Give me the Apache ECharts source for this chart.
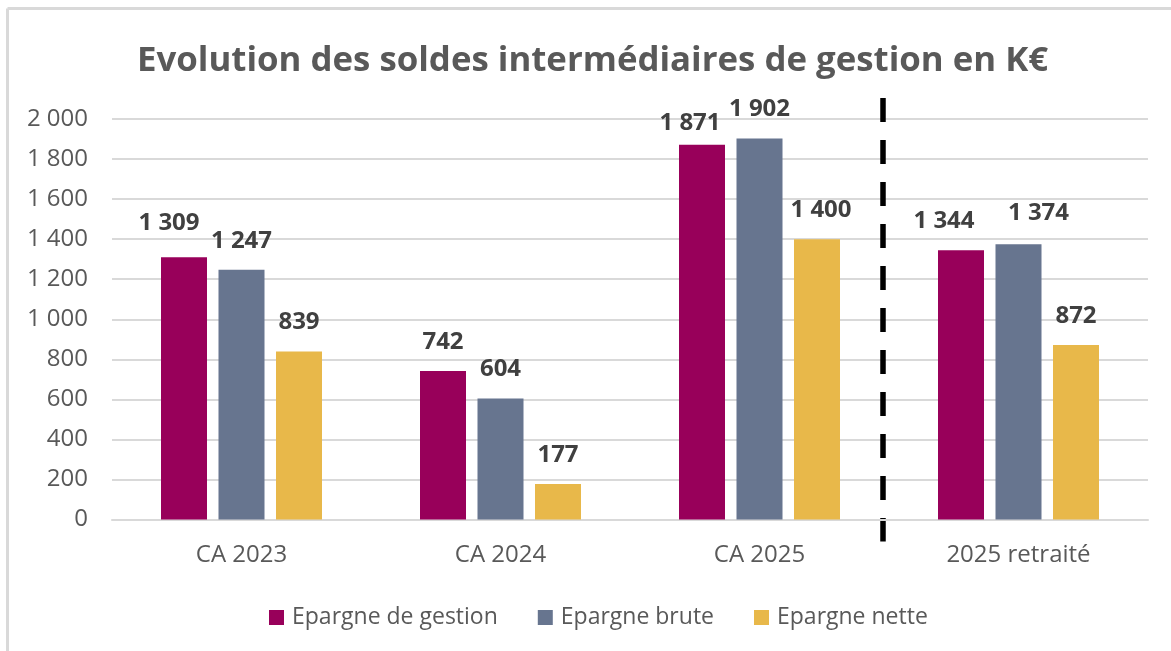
<!DOCTYPE html>
<html><head><meta charset="utf-8">
<script src="https://cdn.jsdelivr.net/npm/echarts@6/dist/echarts.min.js"></script>
<style>html,body{margin:0;padding:0;background:#fff}#c{width:1171px;height:651px}</style>
</head><body><div id="c"></div>
<script>
const categories = ['CA 2023', 'CA 2024', 'CA 2025', '2025 retraité'];
const seriesNames = ['Epargne de gestion', 'Epargne brute', 'Epargne nette'];
const epargneGestion = [1309, 742, 1871, 1344];
const epargneBrute = [1247, 604, 1902, 1374];
const epargneNette = [839, 177, 1400, 872];
const yTicks = { min: 0, max: 2000, interval: 200 };

const colors = ['#98005A', '#67758F', '#E8B84A'];
const fontFam = '"Open Sans", "Liberation Sans", sans-serif';
const fmt = v => String(v).replace(/\B(?=(\d{3})+(?!\d))/g, ' ');
// label nudges (style only, as placed in the original)
const labelDx = [[-15, 0, -12, -17], [0, 0, 0, 20], [0, 0, 4, 0]];
const labelDy = [[-5, 0, 7, 0], [0, 0, 0, -2], [0, 0, 0, 0]];

const chart = echarts.init(document.getElementById('c'), null, { renderer: 'canvas' });
const dataSets = [epargneGestion, epargneBrute, epargneNette];
const series = dataSets.map((d, si) => ({
  name: seriesNames[si], type: 'bar', barWidth: 46, barGap: '25%',
  itemStyle: { color: colors[si] },
  data: d.map((v, i) => ({ value: v, label: { offset: [labelDx[si][i], labelDy[si][i]] } })),
  label: { show: true, position: 'top', distance: 17, formatter: p => fmt(p.value),
    fontFamily: fontFam, fontWeight: 'bold', fontSize: 24, color: '#404040' }
}));

chart.setOption({
  animation: false,
  title: { text: 'Evolution des soldes intermédiaires de gestion en K€', left: 132, top: 39,
    textStyle: { fontFamily: fontFam, fontWeight: 'bold', fontSize: 34.8, color: '#595959' } },
  grid: { left: 112, right: 23, top: 119, bottom: 131.5, containLabel: false },
  legend: { bottom: 17, left: 264, itemWidth: 15, itemHeight: 15, itemGap: 40, icon: 'rect',
    textStyle: { fontFamily: fontFam, fontSize: 23, color: '#595959', padding: [0, 0, 0, 3] } },
  xAxis: { type: 'category', data: categories,
    axisLine: { lineStyle: { color: '#d9d9d9', width: 2 } }, axisTick: { show: false },
    axisLabel: { fontFamily: fontFam, fontSize: 24, color: '#595959', margin: 24 } },
  yAxis: { type: 'value', min: yTicks.min, max: yTicks.max, interval: yTicks.interval,
    axisLine: { show: false }, axisTick: { show: false },
    splitLine: { lineStyle: { color: '#d9d9d9', width: 2 } },
    axisLabel: { fontFamily: fontFam, fontSize: 24, color: '#595959', margin: 24, formatter: v => fmt(v) } },
  series: series
});

// dashed separator between CA 2025 and 2025 retraité, from the axis scale
const p2 = chart.convertToPixel({ xAxisIndex: 0 }, 2);
const p3 = chart.convertToPixel({ xAxisIndex: 0 }, 3);
const sepX = (p2 + p3) / 2 - 6;
const yTop = chart.convertToPixel({ yAxisIndex: 0 }, 2000) - 21;
const yBot = chart.convertToPixel({ yAxisIndex: 0 }, 0) + 22;
chart.setOption({
  graphic: [
    { type: 'line', shape: { x1: sepX, y1: yTop, x2: sepX, y2: yBot },
      style: { stroke: '#000', lineWidth: 5.5, lineDash: [24, 18] } },
    { type: 'line', shape: { x1: 7.5, y1: 8.5, x2: 1171, y2: 8.5 }, style: { stroke: '#d9d9d9', lineWidth: 3 } },
    { type: 'line', shape: { x1: 7.5, y1: 8.5, x2: 7.5, y2: 651 }, style: { stroke: '#d9d9d9', lineWidth: 3 } }
  ]
});
</script></body></html>
